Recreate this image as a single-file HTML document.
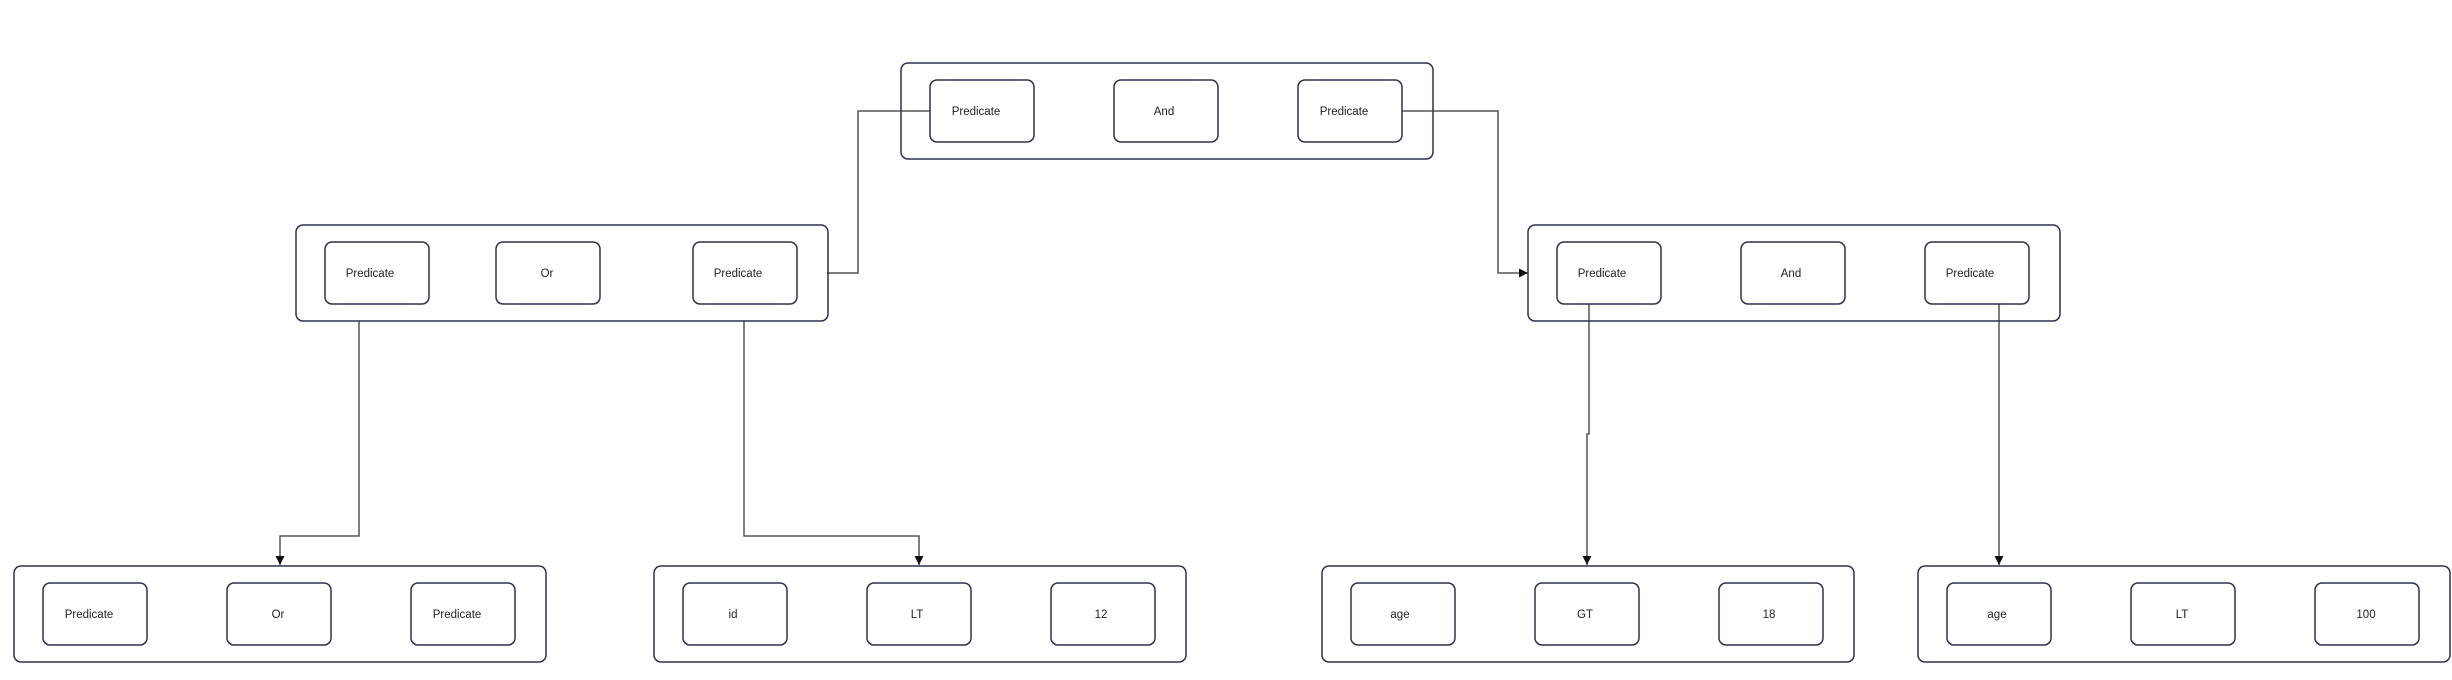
<!DOCTYPE html>
<html><head><meta charset="utf-8"><style>
html,body{margin:0;padding:0;background:#fff;}
svg{display:block;}
text{font-family:"Liberation Sans",Arial,sans-serif;font-size:11.5px;fill:#222;}
</style></head><body>
<svg width="2452" height="680" viewBox="0 0 2452 680" xmlns="http://www.w3.org/2000/svg">
<defs>
<marker id="a" markerWidth="10" markerHeight="10" refX="5" refY="9" orient="0" markerUnits="userSpaceOnUse">
<path d="M0.5,0 L9.5,0 L5,9 Z" fill="#111"/></marker>
<marker id="r" markerWidth="10" markerHeight="10" refX="9" refY="5" markerUnits="userSpaceOnUse">
<path d="M0,0.5 L9,5 L0,9.5 Z" fill="#111"/></marker>
</defs>
<g fill="none" stroke="#555" stroke-width="1.5">
<path d="M930,111 H858 V273 H827"/>
<path d="M1402,111 H1498 V273 H1528" marker-end="url(#r)"/>
<path d="M359,321 V536 H280 V565" marker-end="url(#a)"/>
<path d="M744,321 V536 H919 V565" marker-end="url(#a)"/>
<path d="M1589,304 V434 H1587 V565" marker-end="url(#a)"/>
<path d="M1999,304 V565" marker-end="url(#a)"/>
</g>
<g fill="none" stroke="#2e3050" stroke-width="1.5">
<!-- top -->
<rect x="901" y="63" width="532" height="96" rx="7"/>
<rect x="930" y="80" width="104" height="62" rx="7"/>
<rect x="1114" y="80" width="104" height="62" rx="7"/>
<rect x="1298" y="80" width="104" height="62" rx="7"/>
<!-- mid left -->
<rect x="296" y="225" width="532" height="96" rx="7"/>
<rect x="325" y="242" width="104" height="62" rx="7"/>
<rect x="496" y="242" width="104" height="62" rx="7"/>
<rect x="693" y="242" width="104" height="62" rx="7"/>
<!-- mid right -->
<rect x="1528" y="225" width="532" height="96" rx="7"/>
<rect x="1557" y="242" width="104" height="62" rx="7"/>
<rect x="1741" y="242" width="104" height="62" rx="7"/>
<rect x="1925" y="242" width="104" height="62" rx="7"/>
<!-- bottom -->
<rect x="14" y="566" width="532" height="96" rx="7"/>
<rect x="43" y="583" width="104" height="62" rx="7"/>
<rect x="227" y="583" width="104" height="62" rx="7"/>
<rect x="411" y="583" width="104" height="62" rx="7"/>
<rect x="654" y="566" width="532" height="96" rx="7"/>
<rect x="683" y="583" width="104" height="62" rx="7"/>
<rect x="867" y="583" width="104" height="62" rx="7"/>
<rect x="1051" y="583" width="104" height="62" rx="7"/>
<rect x="1322" y="566" width="532" height="96" rx="7"/>
<rect x="1351" y="583" width="104" height="62" rx="7"/>
<rect x="1535" y="583" width="104" height="62" rx="7"/>
<rect x="1719" y="583" width="104" height="62" rx="7"/>
<rect x="1918" y="566" width="532" height="96" rx="7"/>
<rect x="1947" y="583" width="104" height="62" rx="7"/>
<rect x="2131" y="583" width="104" height="62" rx="7"/>
<rect x="2315" y="583" width="104" height="62" rx="7"/>
</g>
<g text-anchor="middle">
<text x="976" y="115">Predicate</text>
<text x="1164" y="115">And</text>
<text x="1344" y="115">Predicate</text>
<text x="370" y="277">Predicate</text>
<text x="547" y="277">Or</text>
<text x="738" y="277">Predicate</text>
<text x="1602" y="277">Predicate</text>
<text x="1791" y="277">And</text>
<text x="1970" y="277">Predicate</text>
<text x="89" y="618">Predicate</text>
<text x="278" y="618">Or</text>
<text x="457" y="618">Predicate</text>
<text x="733" y="618">id</text>
<text x="917" y="618">LT</text>
<text x="1101" y="618">12</text>
<text x="1400" y="618">age</text>
<text x="1585" y="618">GT</text>
<text x="1769" y="618">18</text>
<text x="1997" y="618">age</text>
<text x="2182" y="618">LT</text>
<text x="2366" y="618">100</text>
</g>
</svg>
</body></html>
